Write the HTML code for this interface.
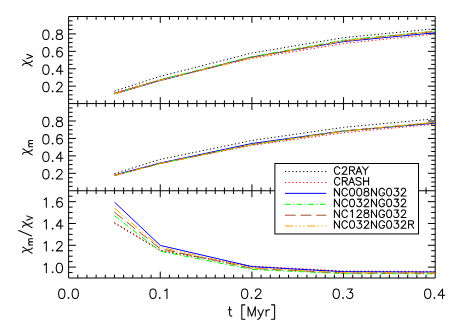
<!DOCTYPE html>
<html><head><meta charset="utf-8"><title>plot</title>
<style>html,body{margin:0;padding:0;background:#fff;font-family:"Liberation Sans",sans-serif;}svg{display:block}</style>
</head><body>
<svg width="458" height="327" viewBox="0 0 458 327">
<rect width="458" height="327" fill="#fff"/>
<path d="M68.62 16.5H435.2V278H68.62Z M68.62 103.58H435.2 M68.62 190.75H435.2 M77.78 16.5v3.3 M77.78 100.28V106.88 M77.78 187.45V194.05 M77.78 278v-3.3 M86.95 16.5v3.3 M86.95 100.28V106.88 M86.95 187.45V194.05 M86.95 278v-3.3 M96.11 16.5v3.3 M96.11 100.28V106.88 M96.11 187.45V194.05 M96.11 278v-3.3 M105.28 16.5v3.3 M105.28 100.28V106.88 M105.28 187.45V194.05 M105.28 278v-3.3 M114.44 16.5v3.3 M114.44 100.28V106.88 M114.44 187.45V194.05 M114.44 278v-3.3 M123.61 16.5v3.3 M123.61 100.28V106.88 M123.61 187.45V194.05 M123.61 278v-3.3 M132.77 16.5v3.3 M132.77 100.28V106.88 M132.77 187.45V194.05 M132.77 278v-3.3 M141.94 16.5v3.3 M141.94 100.28V106.88 M141.94 187.45V194.05 M141.94 278v-3.3 M151.1 16.5v3.3 M151.1 100.28V106.88 M151.1 187.45V194.05 M151.1 278v-3.3 M160.26 16.5v6.4 M160.26 97.18V109.98 M160.26 184.35V197.15 M160.26 278v-6.4 M169.43 16.5v3.3 M169.43 100.28V106.88 M169.43 187.45V194.05 M169.43 278v-3.3 M178.59 16.5v3.3 M178.59 100.28V106.88 M178.59 187.45V194.05 M178.59 278v-3.3 M187.76 16.5v3.3 M187.76 100.28V106.88 M187.76 187.45V194.05 M187.76 278v-3.3 M196.92 16.5v3.3 M196.92 100.28V106.88 M196.92 187.45V194.05 M196.92 278v-3.3 M206.09 16.5v3.3 M206.09 100.28V106.88 M206.09 187.45V194.05 M206.09 278v-3.3 M215.25 16.5v3.3 M215.25 100.28V106.88 M215.25 187.45V194.05 M215.25 278v-3.3 M224.42 16.5v3.3 M224.42 100.28V106.88 M224.42 187.45V194.05 M224.42 278v-3.3 M233.58 16.5v3.3 M233.58 100.28V106.88 M233.58 187.45V194.05 M233.58 278v-3.3 M242.75 16.5v3.3 M242.75 100.28V106.88 M242.75 187.45V194.05 M242.75 278v-3.3 M251.91 16.5v6.4 M251.91 97.18V109.98 M251.91 184.35V197.15 M251.91 278v-6.4 M261.07 16.5v3.3 M261.07 100.28V106.88 M261.07 187.45V194.05 M261.07 278v-3.3 M270.24 16.5v3.3 M270.24 100.28V106.88 M270.24 187.45V194.05 M270.24 278v-3.3 M279.4 16.5v3.3 M279.4 100.28V106.88 M279.4 187.45V194.05 M279.4 278v-3.3 M288.57 16.5v3.3 M288.57 100.28V106.88 M288.57 187.45V194.05 M288.57 278v-3.3 M297.73 16.5v3.3 M297.73 100.28V106.88 M297.73 187.45V194.05 M297.73 278v-3.3 M306.9 16.5v3.3 M306.9 100.28V106.88 M306.9 187.45V194.05 M306.9 278v-3.3 M316.06 16.5v3.3 M316.06 100.28V106.88 M316.06 187.45V194.05 M316.06 278v-3.3 M325.23 16.5v3.3 M325.23 100.28V106.88 M325.23 187.45V194.05 M325.23 278v-3.3 M334.39 16.5v3.3 M334.39 100.28V106.88 M334.39 187.45V194.05 M334.39 278v-3.3 M343.55 16.5v6.4 M343.55 97.18V109.98 M343.55 184.35V197.15 M343.55 278v-6.4 M352.72 16.5v3.3 M352.72 100.28V106.88 M352.72 187.45V194.05 M352.72 278v-3.3 M361.88 16.5v3.3 M361.88 100.28V106.88 M361.88 187.45V194.05 M361.88 278v-3.3 M371.05 16.5v3.3 M371.05 100.28V106.88 M371.05 187.45V194.05 M371.05 278v-3.3 M380.21 16.5v3.3 M380.21 100.28V106.88 M380.21 187.45V194.05 M380.21 278v-3.3 M389.38 16.5v3.3 M389.38 100.28V106.88 M389.38 187.45V194.05 M389.38 278v-3.3 M398.54 16.5v3.3 M398.54 100.28V106.88 M398.54 187.45V194.05 M398.54 278v-3.3 M407.71 16.5v3.3 M407.71 100.28V106.88 M407.71 187.45V194.05 M407.71 278v-3.3 M416.87 16.5v3.3 M416.87 100.28V106.88 M416.87 187.45V194.05 M416.87 278v-3.3 M426.04 16.5v3.3 M426.04 100.28V106.88 M426.04 187.45V194.05 M426.04 278v-3.3 M68.62 99.23h4 M435.2 99.23h-4 M68.62 94.87h4 M435.2 94.87h-4 M68.62 90.52h4 M435.2 90.52h-4 M68.62 86.16h7.3 M435.2 86.16h-7.3 M68.62 81.81h4 M435.2 81.81h-4 M68.62 77.46h4 M435.2 77.46h-4 M68.62 73.1h4 M435.2 73.1h-4 M68.62 68.75h7.3 M435.2 68.75h-7.3 M68.62 64.39h4 M435.2 64.39h-4 M68.62 60.04h4 M435.2 60.04h-4 M68.62 55.69h4 M435.2 55.69h-4 M68.62 51.33h7.3 M435.2 51.33h-7.3 M68.62 46.98h4 M435.2 46.98h-4 M68.62 42.62h4 M435.2 42.62h-4 M68.62 38.27h4 M435.2 38.27h-4 M68.62 33.92h7.3 M435.2 33.92h-7.3 M68.62 29.56h4 M435.2 29.56h-4 M68.62 25.21h4 M435.2 25.21h-4 M68.62 20.85h4 M435.2 20.85h-4 M68.62 186.39h4 M435.2 186.39h-4 M68.62 182.03h4 M435.2 182.03h-4 M68.62 177.67h4 M435.2 177.67h-4 M68.62 173.32h7.3 M435.2 173.32h-7.3 M68.62 168.96h4 M435.2 168.96h-4 M68.62 164.6h4 M435.2 164.6h-4 M68.62 160.24h4 M435.2 160.24h-4 M68.62 155.88h7.3 M435.2 155.88h-7.3 M68.62 151.52h4 M435.2 151.52h-4 M68.62 147.16h4 M435.2 147.16h-4 M68.62 142.81h4 M435.2 142.81h-4 M68.62 138.45h7.3 M435.2 138.45h-7.3 M68.62 134.09h4 M435.2 134.09h-4 M68.62 129.73h4 M435.2 129.73h-4 M68.62 125.37h4 M435.2 125.37h-4 M68.62 121.01h7.3 M435.2 121.01h-7.3 M68.62 116.66h4 M435.2 116.66h-4 M68.62 112.3h4 M435.2 112.3h-4 M68.62 107.94h4 M435.2 107.94h-4 M68.62 272.55h4 M435.2 272.55h-4 M68.62 267.09h7.3 M435.2 267.09h-7.3 M68.62 261.64h4 M435.2 261.64h-4 M68.62 256.19h4 M435.2 256.19h-4 M68.62 250.73h4 M435.2 250.73h-4 M68.62 245.28h7.3 M435.2 245.28h-7.3 M68.62 239.83h4 M435.2 239.83h-4 M68.62 234.38h4 M435.2 234.38h-4 M68.62 228.92h4 M435.2 228.92h-4 M68.62 223.47h7.3 M435.2 223.47h-7.3 M68.62 218.02h4 M435.2 218.02h-4 M68.62 212.56h4 M435.2 212.56h-4 M68.62 207.11h4 M435.2 207.11h-4 M68.62 201.66h7.3 M435.2 201.66h-7.3 M68.62 196.2h4 M435.2 196.2h-4" fill="none" stroke="#000" stroke-width="1.0" stroke-linecap="butt"/>
<polyline points="114.44,91.12 160.26,76.32 251.91,53.07 343.55,37.66 435.2,28.73" fill="none" stroke="#000" stroke-width="1.0" stroke-dasharray="1.2 2.45"/>
<polyline points="114.44,173.52 160.26,159.48 251.91,140.48 343.55,127.34 435.2,118.8" fill="none" stroke="#000" stroke-width="1.0" stroke-dasharray="1.2 2.45"/>
<polyline points="114.44,223.23 160.26,250.49 251.91,266.82 343.55,271.39 435.2,271.93" fill="none" stroke="#000" stroke-width="1.0" stroke-dasharray="1.2 2.45"/>
<polyline points="114.44,92.51 160.26,79.45 251.91,58.38 343.55,43.58 435.2,34.03" fill="none" stroke="#f00" stroke-width="1.0" stroke-dasharray="1.2 2.45"/>
<polyline points="114.44,175.08 160.26,163.12 251.91,145.36 343.55,132.8 435.2,124.11" fill="none" stroke="#f00" stroke-width="1.0" stroke-dasharray="1.2 2.45"/>
<polyline points="114.44,222.3 160.26,250.49 251.91,266.16 343.55,271.01 435.2,271.44" fill="none" stroke="#f00" stroke-width="1.0" stroke-dasharray="1.2 2.45"/>
<polyline points="114.44,93.82 160.26,80.49 251.91,57.07 343.55,41.58 435.2,32.69" fill="none" stroke="#00f" stroke-width="1.0"/>
<polyline points="114.44,175.05 160.26,163.03 251.91,143.49 343.55,130.91 435.2,123.2" fill="none" stroke="#00f" stroke-width="1.0"/>
<polyline points="114.44,202.14 160.26,245.38 251.91,266.63 343.55,271.69 435.2,272.04" fill="none" stroke="#00f" stroke-width="1.0"/>
<polyline points="114.44,93.64 160.26,79.71 251.91,56.72 343.55,40.18 435.2,31.13" fill="none" stroke="#0f0" stroke-width="1.0" stroke-dasharray="5.9 2.1 1.3 2.35"/>
<polyline points="114.44,175.74 160.26,163.47 251.91,144.49 343.55,130.93 435.2,122.63" fill="none" stroke="#0f0" stroke-width="1.0" stroke-dasharray="5.9 2.1 1.3 2.35"/>
<polyline points="114.44,215.71 160.26,251.25 251.91,269.43 343.55,273.64 435.2,273.78" fill="none" stroke="#0f0" stroke-width="1.0" stroke-dasharray="5.9 2.1 1.3 2.35"/>
<polyline points="114.44,93.73 160.26,80.23 251.91,57.33 343.55,40.88 435.2,31.39" fill="none" stroke="#a0522d" stroke-width="1.0" stroke-dasharray="10.8 4.9"/>
<polyline points="114.44,175.57 160.26,163.51 251.91,144.61 343.55,131.2 435.2,122.43" fill="none" stroke="#a0522d" stroke-width="1.0" stroke-dasharray="10.8 4.9"/>
<polyline points="114.44,212.23 160.26,248.68 251.91,268.34 343.55,272.98 435.2,273.13" fill="none" stroke="#a0522d" stroke-width="1.0" stroke-dasharray="10.8 4.9"/>
<polyline points="114.44,93.82 160.26,80.32 251.91,57.68 343.55,40.97 435.2,31.3" fill="none" stroke="#ffa500" stroke-width="1.0" stroke-dasharray="8.2 2.35 1.4 2.5 1.4 2.4 1.4 2.45"/>
<polyline points="114.44,175.4 160.26,163.56 251.91,144.71 343.55,131.13 435.2,122.25" fill="none" stroke="#ffa500" stroke-width="1.0" stroke-dasharray="8.2 2.35 1.4 2.5 1.4 2.4 1.4 2.45"/>
<polyline points="114.44,208.09 160.26,247.23 251.91,267.94 343.55,272.73 435.2,272.85" fill="none" stroke="#ffa500" stroke-width="1.0" stroke-dasharray="8.2 2.35 1.4 2.5 1.4 2.4 1.4 2.45"/>
<rect x="274.9" y="163.5" width="143.6" height="70.45" fill="#fff" stroke="#000" stroke-width="1.0"/>
<path d="M284.9 171.6H326.3" stroke="#000" stroke-width="1.0" fill="none" stroke-dasharray="1.2 2.45"/>
<path transform="translate(333.32 174.3) translate(0 0)" d="M6.48 -5.76 L6.12 -6.48 L5.4 -7.2 L4.68 -7.56 L3.24 -7.56 L2.52 -7.2 L1.8 -6.48 L1.44 -5.76 L1.08 -4.68 L1.08 -2.88 L1.44 -1.8 L1.8 -1.08 L2.52 -0.36 L3.24 -0 L4.68 -0 L5.4 -0.36 L6.12 -1.08 L6.48 -1.8 M9 -5.76 L9 -6.12 L9.36 -6.84 L9.72 -7.2 L10.44 -7.56 L11.88 -7.56 L12.6 -7.2 L12.96 -6.84 L13.32 -6.12 L13.32 -5.4 L12.96 -4.68 L12.24 -3.6 L8.64 -0 L13.68 -0 M16.2 -3.96 L16.2 -0 M16.2 -3.96 L16.2 -7.56 L19.44 -7.56 L20.52 -7.2 L20.88 -6.84 L21.24 -6.12 L21.24 -5.4 L20.88 -4.68 L20.52 -4.32 L19.44 -3.96 L18.72 -3.96 M16.2 -3.96 L18.72 -3.96 M18.72 -3.96 L21.24 -0 M22.68 -0 L25.56 -7.56 L28.44 -0 M23.76 -2.52 L27.36 -2.52 M29.16 -7.56 L32.04 -3.96 M34.92 -7.56 L32.04 -3.96 M32.04 -3.96 L32.04 -0" fill="none" stroke="#000" stroke-width="1.05" stroke-linecap="round" stroke-linejoin="round"/>
<path d="M284.9 182.45H326.3" stroke="#f00" stroke-width="1.0" fill="none" stroke-dasharray="1.2 2.45"/>
<path transform="translate(333.32 185.1) translate(0 0)" d="M6.48 -5.76 L6.12 -6.48 L5.4 -7.2 L4.68 -7.56 L3.24 -7.56 L2.52 -7.2 L1.8 -6.48 L1.44 -5.76 L1.08 -4.68 L1.08 -2.88 L1.44 -1.8 L1.8 -1.08 L2.52 -0.36 L3.24 -0 L4.68 -0 L5.4 -0.36 L6.12 -1.08 L6.48 -1.8 M9 -3.96 L9 -0 M9 -3.96 L9 -7.56 L12.24 -7.56 L13.32 -7.2 L13.68 -6.84 L14.04 -6.12 L14.04 -5.4 L13.68 -4.68 L13.32 -4.32 L12.24 -3.96 L11.52 -3.96 M9 -3.96 L11.52 -3.96 M11.52 -3.96 L14.04 -0 M15.48 -0 L18.36 -7.56 L21.24 -0 M16.56 -2.52 L20.16 -2.52 M27.72 -6.48 L27 -7.2 L25.92 -7.56 L24.48 -7.56 L23.4 -7.2 L22.68 -6.48 L22.68 -5.76 L23.04 -5.04 L23.4 -4.68 L24.12 -4.32 L26.28 -3.6 L27 -3.24 L27.36 -2.88 L27.72 -2.16 L27.72 -1.08 L27 -0.36 L25.92 -0 L24.48 -0 L23.4 -0.36 L22.68 -1.08 M30.24 -7.56 L30.24 -3.96 M35.28 -7.56 L35.28 -3.96 M30.24 -3.96 L30.24 -0 M30.24 -3.96 L35.28 -3.96 M35.28 -3.96 L35.28 -0" fill="none" stroke="#000" stroke-width="1.05" stroke-linecap="round" stroke-linejoin="round"/>
<path d="M284.9 193.35H326.3" stroke="#00f" stroke-width="1.0" fill="none"/>
<path transform="translate(332.96 195.9) translate(0 0)" d="M6.48 -7.56 L6.48 -0 L1.44 -7.56 L1.44 -0 M14.4 -5.76 L14.04 -6.48 L13.32 -7.2 L12.6 -7.56 L11.16 -7.56 L10.44 -7.2 L9.72 -6.48 L9.36 -5.76 L9 -4.68 L9 -2.88 L9.36 -1.8 L9.72 -1.08 L10.44 -0.36 L11.16 -0 L12.6 -0 L13.32 -0.36 L14.04 -1.08 L14.4 -1.8 M18.72 -7.56 L19.44 -7.56 L20.52 -7.2 L21.24 -6.12 L21.6 -4.32 L21.6 -3.24 L21.24 -1.44 L20.52 -0.36 L19.44 -0 L18.72 -0 L17.64 -0.36 L16.92 -1.44 L16.56 -3.24 L16.56 -4.32 L16.92 -6.12 L17.64 -7.2 L18.72 -7.56 M25.92 -7.56 L26.64 -7.56 L27.72 -7.2 L28.44 -6.12 L28.8 -4.32 L28.8 -3.24 L28.44 -1.44 L27.72 -0.36 L26.64 -0 L25.92 -0 L24.84 -0.36 L24.12 -1.44 L23.76 -3.24 L23.76 -4.32 L24.12 -6.12 L24.84 -7.2 L25.92 -7.56 M32.76 -7.56 L34.2 -7.56 L35.28 -7.2 L35.64 -6.48 L35.64 -5.76 L35.28 -5.04 L34.56 -4.68 L33.12 -4.32 L32.04 -3.96 L31.32 -3.24 L30.96 -2.52 L30.96 -1.44 L31.32 -0.72 L31.68 -0.36 L32.76 -0 L34.2 -0 L35.28 -0.36 L35.64 -0.72 L36 -1.44 L36 -2.52 L35.64 -3.24 L34.92 -3.96 L33.84 -4.32 L32.4 -4.68 L31.68 -5.04 L31.32 -5.76 L31.32 -6.48 L31.68 -7.2 L32.76 -7.56 M43.56 -7.56 L43.56 -0 L38.52 -7.56 L38.52 -0 M51.48 -5.76 L51.12 -6.48 L50.4 -7.2 L49.68 -7.56 L48.24 -7.56 L47.52 -7.2 L46.8 -6.48 L46.44 -5.76 L46.08 -4.68 L46.08 -2.88 L46.44 -1.8 L46.8 -1.08 L47.52 -0.36 L48.24 -0 L49.68 -0 L50.4 -0.36 L51.12 -1.08 L51.48 -1.8 L51.48 -2.88 L49.68 -2.88 M55.8 -7.56 L56.52 -7.56 L57.6 -7.2 L58.32 -6.12 L58.68 -4.32 L58.68 -3.24 L58.32 -1.44 L57.6 -0.36 L56.52 -0 L55.8 -0 L54.72 -0.36 L54 -1.44 L53.64 -3.24 L53.64 -4.32 L54 -6.12 L54.72 -7.2 L55.8 -7.56 M61.56 -7.56 L65.52 -7.56 L63.36 -4.68 L64.44 -4.68 L65.16 -4.32 L65.52 -3.96 L65.88 -2.88 L65.88 -2.16 L65.52 -1.08 L64.8 -0.36 L63.72 -0 L62.64 -0 L61.56 -0.36 L61.2 -0.72 L60.84 -1.44 M68.4 -5.76 L68.4 -6.12 L68.76 -6.84 L69.12 -7.2 L69.84 -7.56 L71.28 -7.56 L72 -7.2 L72.36 -6.84 L72.72 -6.12 L72.72 -5.4 L72.36 -4.68 L71.64 -3.6 L68.04 -0 L73.08 -0" fill="none" stroke="#000" stroke-width="1.05" stroke-linecap="round" stroke-linejoin="round"/>
<path d="M284.9 204.3H326.3" stroke="#0f0" stroke-width="1.0" fill="none" stroke-dasharray="5.9 2.1 1.3 2.35"/>
<path transform="translate(332.96 206.7) translate(0 0)" d="M6.48 -7.56 L6.48 -0 L1.44 -7.56 L1.44 -0 M14.4 -5.76 L14.04 -6.48 L13.32 -7.2 L12.6 -7.56 L11.16 -7.56 L10.44 -7.2 L9.72 -6.48 L9.36 -5.76 L9 -4.68 L9 -2.88 L9.36 -1.8 L9.72 -1.08 L10.44 -0.36 L11.16 -0 L12.6 -0 L13.32 -0.36 L14.04 -1.08 L14.4 -1.8 M18.72 -7.56 L19.44 -7.56 L20.52 -7.2 L21.24 -6.12 L21.6 -4.32 L21.6 -3.24 L21.24 -1.44 L20.52 -0.36 L19.44 -0 L18.72 -0 L17.64 -0.36 L16.92 -1.44 L16.56 -3.24 L16.56 -4.32 L16.92 -6.12 L17.64 -7.2 L18.72 -7.56 M24.48 -7.56 L28.44 -7.56 L26.28 -4.68 L27.36 -4.68 L28.08 -4.32 L28.44 -3.96 L28.8 -2.88 L28.8 -2.16 L28.44 -1.08 L27.72 -0.36 L26.64 -0 L25.56 -0 L24.48 -0.36 L24.12 -0.72 L23.76 -1.44 M31.32 -5.76 L31.32 -6.12 L31.68 -6.84 L32.04 -7.2 L32.76 -7.56 L34.2 -7.56 L34.92 -7.2 L35.28 -6.84 L35.64 -6.12 L35.64 -5.4 L35.28 -4.68 L34.56 -3.6 L30.96 -0 L36 -0 M43.56 -7.56 L43.56 -0 L38.52 -7.56 L38.52 -0 M51.48 -5.76 L51.12 -6.48 L50.4 -7.2 L49.68 -7.56 L48.24 -7.56 L47.52 -7.2 L46.8 -6.48 L46.44 -5.76 L46.08 -4.68 L46.08 -2.88 L46.44 -1.8 L46.8 -1.08 L47.52 -0.36 L48.24 -0 L49.68 -0 L50.4 -0.36 L51.12 -1.08 L51.48 -1.8 L51.48 -2.88 L49.68 -2.88 M55.8 -7.56 L56.52 -7.56 L57.6 -7.2 L58.32 -6.12 L58.68 -4.32 L58.68 -3.24 L58.32 -1.44 L57.6 -0.36 L56.52 -0 L55.8 -0 L54.72 -0.36 L54 -1.44 L53.64 -3.24 L53.64 -4.32 L54 -6.12 L54.72 -7.2 L55.8 -7.56 M61.56 -7.56 L65.52 -7.56 L63.36 -4.68 L64.44 -4.68 L65.16 -4.32 L65.52 -3.96 L65.88 -2.88 L65.88 -2.16 L65.52 -1.08 L64.8 -0.36 L63.72 -0 L62.64 -0 L61.56 -0.36 L61.2 -0.72 L60.84 -1.44 M68.4 -5.76 L68.4 -6.12 L68.76 -6.84 L69.12 -7.2 L69.84 -7.56 L71.28 -7.56 L72 -7.2 L72.36 -6.84 L72.72 -6.12 L72.72 -5.4 L72.36 -4.68 L71.64 -3.6 L68.04 -0 L73.08 -0" fill="none" stroke="#000" stroke-width="1.05" stroke-linecap="round" stroke-linejoin="round"/>
<path d="M284.9 215.2H326.3" stroke="#a0522d" stroke-width="1.0" fill="none" stroke-dasharray="10.8 4.9"/>
<path transform="translate(332.96 217.5) translate(0 0)" d="M6.48 -7.56 L6.48 -0 L1.44 -7.56 L1.44 -0 M14.4 -5.76 L14.04 -6.48 L13.32 -7.2 L12.6 -7.56 L11.16 -7.56 L10.44 -7.2 L9.72 -6.48 L9.36 -5.76 L9 -4.68 L9 -2.88 L9.36 -1.8 L9.72 -1.08 L10.44 -0.36 L11.16 -0 L12.6 -0 L13.32 -0.36 L14.04 -1.08 L14.4 -1.8 M17.64 -6.12 L18.36 -6.48 L19.44 -7.56 L19.44 -0 M24.12 -5.76 L24.12 -6.12 L24.48 -6.84 L24.84 -7.2 L25.56 -7.56 L27 -7.56 L27.72 -7.2 L28.08 -6.84 L28.44 -6.12 L28.44 -5.4 L28.08 -4.68 L27.36 -3.6 L23.76 -0 L28.8 -0 M32.76 -7.56 L34.2 -7.56 L35.28 -7.2 L35.64 -6.48 L35.64 -5.76 L35.28 -5.04 L34.56 -4.68 L33.12 -4.32 L32.04 -3.96 L31.32 -3.24 L30.96 -2.52 L30.96 -1.44 L31.32 -0.72 L31.68 -0.36 L32.76 -0 L34.2 -0 L35.28 -0.36 L35.64 -0.72 L36 -1.44 L36 -2.52 L35.64 -3.24 L34.92 -3.96 L33.84 -4.32 L32.4 -4.68 L31.68 -5.04 L31.32 -5.76 L31.32 -6.48 L31.68 -7.2 L32.76 -7.56 M43.56 -7.56 L43.56 -0 L38.52 -7.56 L38.52 -0 M51.48 -5.76 L51.12 -6.48 L50.4 -7.2 L49.68 -7.56 L48.24 -7.56 L47.52 -7.2 L46.8 -6.48 L46.44 -5.76 L46.08 -4.68 L46.08 -2.88 L46.44 -1.8 L46.8 -1.08 L47.52 -0.36 L48.24 -0 L49.68 -0 L50.4 -0.36 L51.12 -1.08 L51.48 -1.8 L51.48 -2.88 L49.68 -2.88 M55.8 -7.56 L56.52 -7.56 L57.6 -7.2 L58.32 -6.12 L58.68 -4.32 L58.68 -3.24 L58.32 -1.44 L57.6 -0.36 L56.52 -0 L55.8 -0 L54.72 -0.36 L54 -1.44 L53.64 -3.24 L53.64 -4.32 L54 -6.12 L54.72 -7.2 L55.8 -7.56 M61.56 -7.56 L65.52 -7.56 L63.36 -4.68 L64.44 -4.68 L65.16 -4.32 L65.52 -3.96 L65.88 -2.88 L65.88 -2.16 L65.52 -1.08 L64.8 -0.36 L63.72 -0 L62.64 -0 L61.56 -0.36 L61.2 -0.72 L60.84 -1.44 M68.4 -5.76 L68.4 -6.12 L68.76 -6.84 L69.12 -7.2 L69.84 -7.56 L71.28 -7.56 L72 -7.2 L72.36 -6.84 L72.72 -6.12 L72.72 -5.4 L72.36 -4.68 L71.64 -3.6 L68.04 -0 L73.08 -0" fill="none" stroke="#000" stroke-width="1.05" stroke-linecap="round" stroke-linejoin="round"/>
<path d="M284.9 226.05H326.3" stroke="#ffa500" stroke-width="1.0" fill="none" stroke-dasharray="8.2 2.35 1.4 2.5 1.4 2.4 1.4 2.45"/>
<path transform="translate(332.96 228.3) translate(0 0)" d="M6.48 -7.56 L6.48 -0 L1.44 -7.56 L1.44 -0 M14.4 -5.76 L14.04 -6.48 L13.32 -7.2 L12.6 -7.56 L11.16 -7.56 L10.44 -7.2 L9.72 -6.48 L9.36 -5.76 L9 -4.68 L9 -2.88 L9.36 -1.8 L9.72 -1.08 L10.44 -0.36 L11.16 -0 L12.6 -0 L13.32 -0.36 L14.04 -1.08 L14.4 -1.8 M18.72 -7.56 L19.44 -7.56 L20.52 -7.2 L21.24 -6.12 L21.6 -4.32 L21.6 -3.24 L21.24 -1.44 L20.52 -0.36 L19.44 -0 L18.72 -0 L17.64 -0.36 L16.92 -1.44 L16.56 -3.24 L16.56 -4.32 L16.92 -6.12 L17.64 -7.2 L18.72 -7.56 M24.48 -7.56 L28.44 -7.56 L26.28 -4.68 L27.36 -4.68 L28.08 -4.32 L28.44 -3.96 L28.8 -2.88 L28.8 -2.16 L28.44 -1.08 L27.72 -0.36 L26.64 -0 L25.56 -0 L24.48 -0.36 L24.12 -0.72 L23.76 -1.44 M31.32 -5.76 L31.32 -6.12 L31.68 -6.84 L32.04 -7.2 L32.76 -7.56 L34.2 -7.56 L34.92 -7.2 L35.28 -6.84 L35.64 -6.12 L35.64 -5.4 L35.28 -4.68 L34.56 -3.6 L30.96 -0 L36 -0 M43.56 -7.56 L43.56 -0 L38.52 -7.56 L38.52 -0 M51.48 -5.76 L51.12 -6.48 L50.4 -7.2 L49.68 -7.56 L48.24 -7.56 L47.52 -7.2 L46.8 -6.48 L46.44 -5.76 L46.08 -4.68 L46.08 -2.88 L46.44 -1.8 L46.8 -1.08 L47.52 -0.36 L48.24 -0 L49.68 -0 L50.4 -0.36 L51.12 -1.08 L51.48 -1.8 L51.48 -2.88 L49.68 -2.88 M55.8 -7.56 L56.52 -7.56 L57.6 -7.2 L58.32 -6.12 L58.68 -4.32 L58.68 -3.24 L58.32 -1.44 L57.6 -0.36 L56.52 -0 L55.8 -0 L54.72 -0.36 L54 -1.44 L53.64 -3.24 L53.64 -4.32 L54 -6.12 L54.72 -7.2 L55.8 -7.56 M61.56 -7.56 L65.52 -7.56 L63.36 -4.68 L64.44 -4.68 L65.16 -4.32 L65.52 -3.96 L65.88 -2.88 L65.88 -2.16 L65.52 -1.08 L64.8 -0.36 L63.72 -0 L62.64 -0 L61.56 -0.36 L61.2 -0.72 L60.84 -1.44 M68.4 -5.76 L68.4 -6.12 L68.76 -6.84 L69.12 -7.2 L69.84 -7.56 L71.28 -7.56 L72 -7.2 L72.36 -6.84 L72.72 -6.12 L72.72 -5.4 L72.36 -4.68 L71.64 -3.6 L68.04 -0 L73.08 -0 M75.6 -3.96 L75.6 -0 M75.6 -3.96 L75.6 -7.56 L78.84 -7.56 L79.92 -7.2 L80.28 -6.84 L80.64 -6.12 L80.64 -5.4 L80.28 -4.68 L79.92 -4.32 L78.84 -3.96 L78.12 -3.96 M75.6 -3.96 L78.12 -3.96 M78.12 -3.96 L80.64 -0" fill="none" stroke="#000" stroke-width="1.05" stroke-linecap="round" stroke-linejoin="round"/>
<path transform="translate(68.52 298.4) translate(-11.25 0)" d="M4.05 -9.45 L4.95 -9.45 L6.3 -9 L7.2 -7.65 L7.65 -5.4 L7.65 -4.05 L7.2 -1.8 L6.3 -0.45 L4.95 -0 L4.05 -0 L2.7 -0.45 L1.8 -1.8 L1.35 -4.05 L1.35 -5.4 L1.8 -7.65 L2.7 -9 L4.05 -9.45 M11.25 -0.9 L11.7 -0.45 L11.25 -0 L10.8 -0.45 L11.25 -0.9 M17.55 -9.45 L18.45 -9.45 L19.8 -9 L20.7 -7.65 L21.15 -5.4 L21.15 -4.05 L20.7 -1.8 L19.8 -0.45 L18.45 -0 L17.55 -0 L16.2 -0.45 L15.3 -1.8 L14.85 -4.05 L14.85 -5.4 L15.3 -7.65 L16.2 -9 L17.55 -9.45" fill="none" stroke="#000" stroke-width="1.05" stroke-linecap="round" stroke-linejoin="round"/>
<path transform="translate(159.76 298.4) translate(-11.25 0)" d="M4.05 -9.45 L4.95 -9.45 L6.3 -9 L7.2 -7.65 L7.65 -5.4 L7.65 -4.05 L7.2 -1.8 L6.3 -0.45 L4.95 -0 L4.05 -0 L2.7 -0.45 L1.8 -1.8 L1.35 -4.05 L1.35 -5.4 L1.8 -7.65 L2.7 -9 L4.05 -9.45 M11.25 -0.9 L11.7 -0.45 L11.25 -0 L10.8 -0.45 L11.25 -0.9 M16.2 -7.65 L17.1 -8.1 L18.45 -9.45 L18.45 -0" fill="none" stroke="#000" stroke-width="1.05" stroke-linecap="round" stroke-linejoin="round"/>
<path transform="translate(251.41 298.4) translate(-11.25 0)" d="M4.05 -9.45 L4.95 -9.45 L6.3 -9 L7.2 -7.65 L7.65 -5.4 L7.65 -4.05 L7.2 -1.8 L6.3 -0.45 L4.95 -0 L4.05 -0 L2.7 -0.45 L1.8 -1.8 L1.35 -4.05 L1.35 -5.4 L1.8 -7.65 L2.7 -9 L4.05 -9.45 M11.25 -0.9 L11.7 -0.45 L11.25 -0 L10.8 -0.45 L11.25 -0.9 M15.3 -7.2 L15.3 -7.65 L15.75 -8.55 L16.2 -9 L17.1 -9.45 L18.9 -9.45 L19.8 -9 L20.25 -8.55 L20.7 -7.65 L20.7 -6.75 L20.25 -5.85 L19.35 -4.5 L14.85 -0 L21.15 -0" fill="none" stroke="#000" stroke-width="1.05" stroke-linecap="round" stroke-linejoin="round"/>
<path transform="translate(343 298.4) translate(-11.25 0)" d="M4.05 -9.45 L4.95 -9.45 L6.3 -9 L7.2 -7.65 L7.65 -5.4 L7.65 -4.05 L7.2 -1.8 L6.3 -0.45 L4.95 -0 L4.05 -0 L2.7 -0.45 L1.8 -1.8 L1.35 -4.05 L1.35 -5.4 L1.8 -7.65 L2.7 -9 L4.05 -9.45 M11.25 -0.9 L11.7 -0.45 L11.25 -0 L10.8 -0.45 L11.25 -0.9 M15.75 -9.45 L20.7 -9.45 L18 -5.85 L19.35 -5.85 L20.25 -5.4 L20.7 -4.95 L21.15 -3.6 L21.15 -2.7 L20.7 -1.35 L19.8 -0.45 L18.45 -0 L17.1 -0 L15.75 -0.45 L15.3 -0.9 L14.85 -1.8" fill="none" stroke="#000" stroke-width="1.05" stroke-linecap="round" stroke-linejoin="round"/>
<path transform="translate(434.45 298.4) translate(-11.25 0)" d="M4.05 -9.45 L4.95 -9.45 L6.3 -9 L7.2 -7.65 L7.65 -5.4 L7.65 -4.05 L7.2 -1.8 L6.3 -0.45 L4.95 -0 L4.05 -0 L2.7 -0.45 L1.8 -1.8 L1.35 -4.05 L1.35 -5.4 L1.8 -7.65 L2.7 -9 L4.05 -9.45 M11.25 -0.9 L11.7 -0.45 L11.25 -0 L10.8 -0.45 L11.25 -0.9 M19.35 -3.15 L19.35 -9.45 L14.85 -3.15 L19.35 -3.15 M19.35 -3.15 L21.6 -3.15 M19.35 -3.15 L19.35 -0" fill="none" stroke="#000" stroke-width="1.05" stroke-linecap="round" stroke-linejoin="round"/>
<path transform="translate(63.9 91.76) translate(-22.5 0)" d="M4.05 -9.45 L4.95 -9.45 L6.3 -9 L7.2 -7.65 L7.65 -5.4 L7.65 -4.05 L7.2 -1.8 L6.3 -0.45 L4.95 -0 L4.05 -0 L2.7 -0.45 L1.8 -1.8 L1.35 -4.05 L1.35 -5.4 L1.8 -7.65 L2.7 -9 L4.05 -9.45 M11.25 -0.9 L11.7 -0.45 L11.25 -0 L10.8 -0.45 L11.25 -0.9 M15.3 -7.2 L15.3 -7.65 L15.75 -8.55 L16.2 -9 L17.1 -9.45 L18.9 -9.45 L19.8 -9 L20.25 -8.55 L20.7 -7.65 L20.7 -6.75 L20.25 -5.85 L19.35 -4.5 L14.85 -0 L21.15 -0" fill="none" stroke="#000" stroke-width="1.05" stroke-linecap="round" stroke-linejoin="round"/>
<path transform="translate(63.9 74.35) translate(-22.5 0)" d="M4.05 -9.45 L4.95 -9.45 L6.3 -9 L7.2 -7.65 L7.65 -5.4 L7.65 -4.05 L7.2 -1.8 L6.3 -0.45 L4.95 -0 L4.05 -0 L2.7 -0.45 L1.8 -1.8 L1.35 -4.05 L1.35 -5.4 L1.8 -7.65 L2.7 -9 L4.05 -9.45 M11.25 -0.9 L11.7 -0.45 L11.25 -0 L10.8 -0.45 L11.25 -0.9 M19.35 -3.15 L19.35 -9.45 L14.85 -3.15 L19.35 -3.15 M19.35 -3.15 L21.6 -3.15 M19.35 -3.15 L19.35 -0" fill="none" stroke="#000" stroke-width="1.05" stroke-linecap="round" stroke-linejoin="round"/>
<path transform="translate(63.9 56.93) translate(-22.5 0)" d="M4.05 -9.45 L4.95 -9.45 L6.3 -9 L7.2 -7.65 L7.65 -5.4 L7.65 -4.05 L7.2 -1.8 L6.3 -0.45 L4.95 -0 L4.05 -0 L2.7 -0.45 L1.8 -1.8 L1.35 -4.05 L1.35 -5.4 L1.8 -7.65 L2.7 -9 L4.05 -9.45 M11.25 -0.9 L11.7 -0.45 L11.25 -0 L10.8 -0.45 L11.25 -0.9 M20.7 -8.1 L20.25 -9 L18.9 -9.45 L18 -9.45 L16.65 -9 L15.75 -7.65 L15.3 -5.4 L15.3 -3.15 M15.3 -3.15 L15.75 -1.35 L16.65 -0.45 L18 -0 L18.45 -0 L19.8 -0.45 L20.7 -1.35 L21.15 -2.7 L21.15 -3.15 L20.7 -4.5 L19.8 -5.4 L18.45 -5.85 L18 -5.85 L16.65 -5.4 L15.75 -4.5 L15.3 -3.15" fill="none" stroke="#000" stroke-width="1.05" stroke-linecap="round" stroke-linejoin="round"/>
<path transform="translate(63.9 39.52) translate(-22.5 0)" d="M4.05 -9.45 L4.95 -9.45 L6.3 -9 L7.2 -7.65 L7.65 -5.4 L7.65 -4.05 L7.2 -1.8 L6.3 -0.45 L4.95 -0 L4.05 -0 L2.7 -0.45 L1.8 -1.8 L1.35 -4.05 L1.35 -5.4 L1.8 -7.65 L2.7 -9 L4.05 -9.45 M11.25 -0.9 L11.7 -0.45 L11.25 -0 L10.8 -0.45 L11.25 -0.9 M17.1 -9.45 L18.9 -9.45 L20.25 -9 L20.7 -8.1 L20.7 -7.2 L20.25 -6.3 L19.35 -5.85 L17.55 -5.4 L16.2 -4.95 L15.3 -4.05 L14.85 -3.15 L14.85 -1.8 L15.3 -0.9 L15.75 -0.45 L17.1 -0 L18.9 -0 L20.25 -0.45 L20.7 -0.9 L21.15 -1.8 L21.15 -3.15 L20.7 -4.05 L19.8 -4.95 L18.45 -5.4 L16.65 -5.85 L15.75 -6.3 L15.3 -7.2 L15.3 -8.1 L15.75 -9 L17.1 -9.45" fill="none" stroke="#000" stroke-width="1.05" stroke-linecap="round" stroke-linejoin="round"/>
<path transform="translate(63.9 178.92) translate(-22.5 0)" d="M4.05 -9.45 L4.95 -9.45 L6.3 -9 L7.2 -7.65 L7.65 -5.4 L7.65 -4.05 L7.2 -1.8 L6.3 -0.45 L4.95 -0 L4.05 -0 L2.7 -0.45 L1.8 -1.8 L1.35 -4.05 L1.35 -5.4 L1.8 -7.65 L2.7 -9 L4.05 -9.45 M11.25 -0.9 L11.7 -0.45 L11.25 -0 L10.8 -0.45 L11.25 -0.9 M15.3 -7.2 L15.3 -7.65 L15.75 -8.55 L16.2 -9 L17.1 -9.45 L18.9 -9.45 L19.8 -9 L20.25 -8.55 L20.7 -7.65 L20.7 -6.75 L20.25 -5.85 L19.35 -4.5 L14.85 -0 L21.15 -0" fill="none" stroke="#000" stroke-width="1.05" stroke-linecap="round" stroke-linejoin="round"/>
<path transform="translate(63.9 161.48) translate(-22.5 0)" d="M4.05 -9.45 L4.95 -9.45 L6.3 -9 L7.2 -7.65 L7.65 -5.4 L7.65 -4.05 L7.2 -1.8 L6.3 -0.45 L4.95 -0 L4.05 -0 L2.7 -0.45 L1.8 -1.8 L1.35 -4.05 L1.35 -5.4 L1.8 -7.65 L2.7 -9 L4.05 -9.45 M11.25 -0.9 L11.7 -0.45 L11.25 -0 L10.8 -0.45 L11.25 -0.9 M19.35 -3.15 L19.35 -9.45 L14.85 -3.15 L19.35 -3.15 M19.35 -3.15 L21.6 -3.15 M19.35 -3.15 L19.35 -0" fill="none" stroke="#000" stroke-width="1.05" stroke-linecap="round" stroke-linejoin="round"/>
<path transform="translate(63.9 144.05) translate(-22.5 0)" d="M4.05 -9.45 L4.95 -9.45 L6.3 -9 L7.2 -7.65 L7.65 -5.4 L7.65 -4.05 L7.2 -1.8 L6.3 -0.45 L4.95 -0 L4.05 -0 L2.7 -0.45 L1.8 -1.8 L1.35 -4.05 L1.35 -5.4 L1.8 -7.65 L2.7 -9 L4.05 -9.45 M11.25 -0.9 L11.7 -0.45 L11.25 -0 L10.8 -0.45 L11.25 -0.9 M20.7 -8.1 L20.25 -9 L18.9 -9.45 L18 -9.45 L16.65 -9 L15.75 -7.65 L15.3 -5.4 L15.3 -3.15 M15.3 -3.15 L15.75 -1.35 L16.65 -0.45 L18 -0 L18.45 -0 L19.8 -0.45 L20.7 -1.35 L21.15 -2.7 L21.15 -3.15 L20.7 -4.5 L19.8 -5.4 L18.45 -5.85 L18 -5.85 L16.65 -5.4 L15.75 -4.5 L15.3 -3.15" fill="none" stroke="#000" stroke-width="1.05" stroke-linecap="round" stroke-linejoin="round"/>
<path transform="translate(63.9 126.61) translate(-22.5 0)" d="M4.05 -9.45 L4.95 -9.45 L6.3 -9 L7.2 -7.65 L7.65 -5.4 L7.65 -4.05 L7.2 -1.8 L6.3 -0.45 L4.95 -0 L4.05 -0 L2.7 -0.45 L1.8 -1.8 L1.35 -4.05 L1.35 -5.4 L1.8 -7.65 L2.7 -9 L4.05 -9.45 M11.25 -0.9 L11.7 -0.45 L11.25 -0 L10.8 -0.45 L11.25 -0.9 M17.1 -9.45 L18.9 -9.45 L20.25 -9 L20.7 -8.1 L20.7 -7.2 L20.25 -6.3 L19.35 -5.85 L17.55 -5.4 L16.2 -4.95 L15.3 -4.05 L14.85 -3.15 L14.85 -1.8 L15.3 -0.9 L15.75 -0.45 L17.1 -0 L18.9 -0 L20.25 -0.45 L20.7 -0.9 L21.15 -1.8 L21.15 -3.15 L20.7 -4.05 L19.8 -4.95 L18.45 -5.4 L16.65 -5.85 L15.75 -6.3 L15.3 -7.2 L15.3 -8.1 L15.75 -9 L17.1 -9.45" fill="none" stroke="#000" stroke-width="1.05" stroke-linecap="round" stroke-linejoin="round"/>
<path transform="translate(63.9 272.69) translate(-22.5 0)" d="M2.7 -7.65 L3.6 -8.1 L4.95 -9.45 L4.95 -0 M11.25 -0.9 L11.7 -0.45 L11.25 -0 L10.8 -0.45 L11.25 -0.9 M17.55 -9.45 L18.45 -9.45 L19.8 -9 L20.7 -7.65 L21.15 -5.4 L21.15 -4.05 L20.7 -1.8 L19.8 -0.45 L18.45 -0 L17.55 -0 L16.2 -0.45 L15.3 -1.8 L14.85 -4.05 L14.85 -5.4 L15.3 -7.65 L16.2 -9 L17.55 -9.45" fill="none" stroke="#000" stroke-width="1.05" stroke-linecap="round" stroke-linejoin="round"/>
<path transform="translate(63.9 250.88) translate(-22.5 0)" d="M2.7 -7.65 L3.6 -8.1 L4.95 -9.45 L4.95 -0 M11.25 -0.9 L11.7 -0.45 L11.25 -0 L10.8 -0.45 L11.25 -0.9 M15.3 -7.2 L15.3 -7.65 L15.75 -8.55 L16.2 -9 L17.1 -9.45 L18.9 -9.45 L19.8 -9 L20.25 -8.55 L20.7 -7.65 L20.7 -6.75 L20.25 -5.85 L19.35 -4.5 L14.85 -0 L21.15 -0" fill="none" stroke="#000" stroke-width="1.05" stroke-linecap="round" stroke-linejoin="round"/>
<path transform="translate(63.9 229.07) translate(-22.5 0)" d="M2.7 -7.65 L3.6 -8.1 L4.95 -9.45 L4.95 -0 M11.25 -0.9 L11.7 -0.45 L11.25 -0 L10.8 -0.45 L11.25 -0.9 M19.35 -3.15 L19.35 -9.45 L14.85 -3.15 L19.35 -3.15 M19.35 -3.15 L21.6 -3.15 M19.35 -3.15 L19.35 -0" fill="none" stroke="#000" stroke-width="1.05" stroke-linecap="round" stroke-linejoin="round"/>
<path transform="translate(63.9 207.26) translate(-22.5 0)" d="M2.7 -7.65 L3.6 -8.1 L4.95 -9.45 L4.95 -0 M11.25 -0.9 L11.7 -0.45 L11.25 -0 L10.8 -0.45 L11.25 -0.9 M20.7 -8.1 L20.25 -9 L18.9 -9.45 L18 -9.45 L16.65 -9 L15.75 -7.65 L15.3 -5.4 L15.3 -3.15 M15.3 -3.15 L15.75 -1.35 L16.65 -0.45 L18 -0 L18.45 -0 L19.8 -0.45 L20.7 -1.35 L21.15 -2.7 L21.15 -3.15 L20.7 -4.5 L19.8 -5.4 L18.45 -5.85 L18 -5.85 L16.65 -5.4 L15.75 -4.5 L15.3 -3.15" fill="none" stroke="#000" stroke-width="1.05" stroke-linecap="round" stroke-linejoin="round"/>
<path transform="translate(251.91 316.1) translate(-24.53 0)" d="M2.25 -9.45 L2.25 -6.3 M2.25 -6.3 L4.05 -6.3 M2.25 -6.3 L2.25 -1.8 L2.7 -0.45 L3.6 -0 L4.5 -0 M2.25 -6.3 L0.9 -6.3 M17.55 -11.25 L14.4 -11.25 L14.4 3.15 L17.55 3.15 M20.7 -0 L20.7 -9.45 L24.3 -0 L27.9 -9.45 L27.9 -0 M30.6 -6.3 L33.3 -0 M36 -6.3 L33.3 -0 M33.3 -0 L32.4 1.8 L31.5 2.7 L30.6 3.15 L30.15 3.15 M38.7 -6.3 L38.7 -3.6 M42.3 -6.3 L40.95 -6.3 L40.05 -5.85 L39.15 -4.95 L38.7 -3.6 M38.7 -3.6 L38.7 -0 M44.1 -11.25 L47.25 -11.25 L47.25 3.15 L44.1 3.15" fill="none" stroke="#000" stroke-width="1.05" stroke-linecap="round" stroke-linejoin="round"/>
<path transform="translate(29 60.54) rotate(-90) translate(-6.56 0)" d="M1.57 -6.3 L2.25 -6.3 L3.15 -5.4 L5.17 2.25 L5.85 3.15 L6.53 3.15 M7.2 -6.3 L6.75 -5.4 L1.35 2.25 L1.03 3.15 M8.38 -2.26 L10.61 3.6 L12.84 -2.26" fill="none" stroke="#000" stroke-width="1.05" stroke-linecap="round" stroke-linejoin="round"/>
<path transform="translate(29 147.66) rotate(-90) translate(-8.23 0)" d="M1.57 -6.3 L2.25 -6.3 L3.15 -5.4 L5.17 2.25 L5.85 3.15 L6.53 3.15 M7.2 -6.3 L6.75 -5.4 L1.35 2.25 L1.03 3.15 M9.22 -0.31 L9.22 0.81 M12.29 0.81 L12.01 -0.03 L11.45 -0.31 L10.61 -0.31 L10.05 -0.03 L9.22 0.81 M12.29 0.81 L13.12 -0.03 L13.68 -0.31 L14.52 -0.31 L15.07 -0.03 L15.35 0.81 L15.35 3.6 M12.29 0.81 L12.29 3.6 M9.22 0.81 L9.22 3.6" fill="none" stroke="#000" stroke-width="1.05" stroke-linecap="round" stroke-linejoin="round"/>
<path transform="translate(29 234.88) rotate(-90) translate(-19.3 0)" d="M1.57 -6.3 L2.25 -6.3 L3.15 -5.4 L5.17 2.25 L5.85 3.15 L6.53 3.15 M7.2 -6.3 L6.75 -5.4 L1.35 2.25 L1.03 3.15 M9.22 -0.31 L9.22 0.81 M12.29 0.81 L12.01 -0.03 L11.45 -0.31 L10.61 -0.31 L10.05 -0.03 L9.22 0.81 M12.29 0.81 L13.12 -0.03 L13.68 -0.31 L14.52 -0.31 L15.07 -0.03 L15.35 0.81 L15.35 3.6 M12.29 0.81 L12.29 3.6 M9.22 0.81 L9.22 3.6 M23.67 -10.35 L18.27 2.7 M27.04 -6.3 L27.72 -6.3 L28.62 -5.4 L30.64 2.25 L31.32 3.15 L31.99 3.15 M32.67 -6.3 L32.22 -5.4 L26.82 2.25 L26.5 3.15 M33.85 -2.26 L36.08 3.6 L38.31 -2.26" fill="none" stroke="#000" stroke-width="1.05" stroke-linecap="round" stroke-linejoin="round"/>
</svg>
</body></html>
